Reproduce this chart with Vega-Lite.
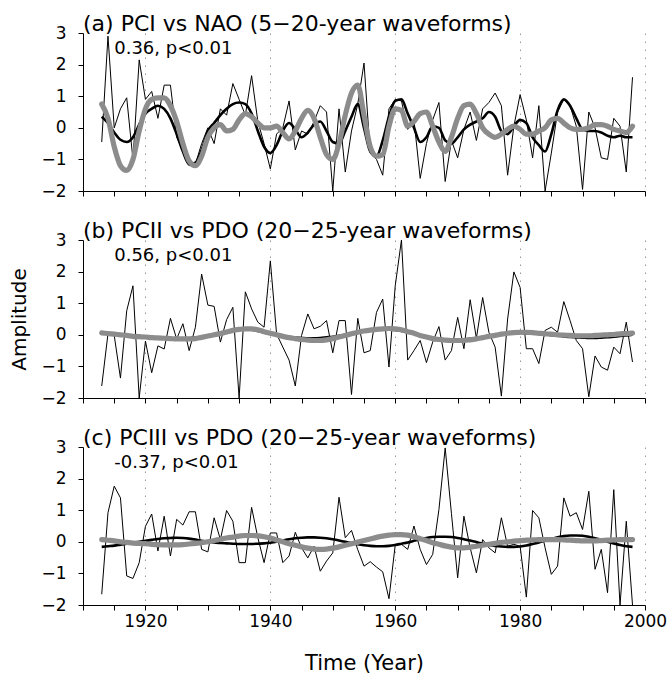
{
  "$schema": "https://vega.github.io/schema/vega-lite/v6.json",
  "padding": {"left": 9, "top": 13, "right": 5, "bottom": 5},
  "background": "white",
  "bounds": "flush",
  "spacing": 49,
  "config": {
    "font": "DejaVu Sans",
    "view": {"stroke": null},
    "axis": {"domainColor": "#000", "tickColor": "#000", "labelColor": "#000", "titleColor": "#000", "labelFont": "DejaVu Sans", "titleFont": "DejaVu Sans", "labelFontSize": 17, "titleFontSize": 20, "titleFontWeight": "normal", "tickSize": 5, "domainWidth": 1, "tickWidth": 1},
    "axisY": {"values": [-2,-1,0,1,2,3], "labelPadding": 12, "grid": false, "labelOverlap": false},
    "axisX": {"values": [1910,1915,1920,1925,1930,1935,1940,1945,1950,1955,1960,1965,1970,1975,1980,1985,1990,1995,2000], "grid": true, "gridColor": "#999", "gridDash": [1.5, 6.5], "labelOverlap": false, "labelFlush": false},
    "title": {"font": "DejaVu Sans", "fontSize": 22, "fontWeight": "normal", "anchor": "start", "frame": "group", "color": "#000", "offset": -12}
  },
  "datasets": {
    "a": [
      {"year":1913,"raw":-0.45,"pc":0.35,"idx":0.75},{"year":1914,"raw":2.9,"pc":0.15,"idx":0.3},{"year":1915,"raw":0.0,"pc":-0.15,"idx":-0.6},{"year":1916,"raw":0.6,"pc":-0.38,"idx":-1.2},{"year":1917,"raw":0.95,"pc":-0.45,"idx":-1.35},{"year":1918,"raw":-1.0,"pc":-0.3,"idx":-1.0},{"year":1919,"raw":2.15,"pc":0.1,"idx":-0.1},{"year":1920,"raw":0.9,"pc":0.45,"idx":0.6},{"year":1921,"raw":1.15,"pc":0.6,"idx":0.9},{"year":1922,"raw":0.3,"pc":0.7,"idx":0.95},{"year":1923,"raw":1.35,"pc":0.6,"idx":0.95},{"year":1924,"raw":1.35,"pc":0.3,"idx":0.7},{"year":1925,"raw":-0.3,"pc":-0.2,"idx":0.2},{"year":1926,"raw":-0.7,"pc":-0.75,"idx":-0.5},{"year":1927,"raw":-1.2,"pc":-1.15,"idx":-1.05},{"year":1928,"raw":-1.15,"pc":-1.1,"idx":-1.2},{"year":1929,"raw":-0.5,"pc":-0.7,"idx":-0.9},{"year":1930,"raw":0.0,"pc":-0.1,"idx":-0.3},{"year":1931,"raw":-0.5,"pc":0.15,"idx":0.0},{"year":1932,"raw":0.6,"pc":0.4,"idx":0.1},{"year":1933,"raw":0.4,"pc":0.6,"idx":-0.1},{"year":1934,"raw":1.4,"pc":0.75,"idx":-0.05},{"year":1935,"raw":0.9,"pc":0.8,"idx":0.25},{"year":1936,"raw":0.4,"pc":0.75,"idx":0.45},{"year":1937,"raw":1.65,"pc":0.45,"idx":0.35},{"year":1938,"raw":0.2,"pc":-0.1,"idx":0.15},{"year":1939,"raw":-0.5,"pc":-0.6,"idx":0.0},{"year":1940,"raw":-1.3,"pc":-0.8,"idx":0.0},{"year":1941,"raw":-0.2,"pc":-0.55,"idx":0.05},{"year":1942,"raw":0.0,"pc":-0.1,"idx":-0.15},{"year":1943,"raw":0.85,"pc":0.15,"idx":-0.35},{"year":1944,"raw":-0.7,"pc":-0.05,"idx":-0.1},{"year":1945,"raw":-0.1,"pc":-0.3,"idx":0.3},{"year":1946,"raw":-0.2,"pc":-0.15,"idx":0.55},{"year":1947,"raw":0.2,"pc":0.1,"idx":0.3},{"year":1948,"raw":0.7,"pc":0.2,"idx":-0.3},{"year":1949,"raw":0.5,"pc":-0.1,"idx":-0.85},{"year":1950,"raw":-2.0,"pc":-0.45,"idx":-1.0},{"year":1951,"raw":0.6,"pc":-0.5,"idx":-0.5},{"year":1952,"raw":-1.4,"pc":-0.1,"idx":0.4},{"year":1953,"raw":-0.1,"pc":0.35,"idx":1.1},{"year":1954,"raw":0.75,"pc":0.75,"idx":1.35},{"year":1955,"raw":2.05,"pc":0.0,"idx":0.4},{"year":1956,"raw":-0.8,"pc":-0.75,"idx":-0.6},{"year":1957,"raw":-1.0,"pc":-0.9,"idx":-0.9},{"year":1958,"raw":-1.5,"pc":-0.4,"idx":-0.85},{"year":1959,"raw":0.6,"pc":0.35,"idx":0.05},{"year":1960,"raw":0.9,"pc":0.85,"idx":0.6},{"year":1961,"raw":0.85,"pc":0.9,"idx":0.55},{"year":1962,"raw":-0.05,"pc":0.45,"idx":0.05},{"year":1963,"raw":0.25,"pc":0.0,"idx":0.2},{"year":1964,"raw":-1.6,"pc":-0.45,"idx":0.45},{"year":1965,"raw":-0.5,"pc":-0.3,"idx":0.5},{"year":1966,"raw":0.25,"pc":0.05,"idx":0.05},{"year":1967,"raw":0.8,"pc":0.0,"idx":-0.45},{"year":1968,"raw":-1.7,"pc":-0.4,"idx":-0.75},{"year":1969,"raw":-0.4,"pc":-0.5,"idx":-0.3},{"year":1970,"raw":-0.95,"pc":-0.3,"idx":0.3},{"year":1971,"raw":-0.05,"pc":-0.05,"idx":0.7},{"year":1972,"raw":0.5,"pc":0.1,"idx":0.75},{"year":1973,"raw":-0.4,"pc":0.2,"idx":0.45},{"year":1974,"raw":0.6,"pc":0.3,"idx":0.0},{"year":1975,"raw":0.8,"pc":0.5,"idx":-0.2},{"year":1976,"raw":1.1,"pc":0.35,"idx":-0.3},{"year":1977,"raw":0.7,"pc":-0.1,"idx":-0.2},{"year":1978,"raw":-1.5,"pc":-0.2,"idx":-0.05},{"year":1979,"raw":0.05,"pc":0.05,"idx":0.05},{"year":1980,"raw":1.05,"pc":0.25,"idx":-0.05},{"year":1981,"raw":0.25,"pc":0.15,"idx":-0.2},{"year":1982,"raw":-0.95,"pc":-0.3,"idx":-0.2},{"year":1983,"raw":0.7,"pc":-0.55,"idx":-0.1},{"year":1984,"raw":-2.0,"pc":-0.75,"idx":0.0},{"year":1985,"raw":-0.8,"pc":-0.2,"idx":0.25},{"year":1986,"raw":0.5,"pc":0.55,"idx":0.3},{"year":1987,"raw":0.9,"pc":0.9,"idx":0.15},{"year":1988,"raw":0.7,"pc":0.7,"idx":0.0},{"year":1989,"raw":0.05,"pc":0.3,"idx":-0.05},{"year":1990,"raw":-1.95,"pc":-0.05,"idx":-0.05},{"year":1991,"raw":0.5,"pc":-0.1,"idx":0.0},{"year":1992,"raw":0.0,"pc":-0.1,"idx":0.1},{"year":1993,"raw":-0.95,"pc":-0.15,"idx":0.1},{"year":1994,"raw":-1.0,"pc":-0.25,"idx":0.05},{"year":1995,"raw":0.3,"pc":-0.3,"idx":-0.05},{"year":1996,"raw":0.05,"pc":-0.25,"idx":-0.1},{"year":1997,"raw":-1.4,"pc":-0.3,"idx":-0.15},{"year":1998,"raw":1.6,"pc":-0.3,"idx":0.05}
    ],
    "b": [
      {"year":1913,"raw":-1.62,"pc":0.06,"idx":0.06},{"year":1914,"raw":0.03,"pc":0.04,"idx":0.04},{"year":1915,"raw":-0.02,"pc":0.02,"idx":0.02},{"year":1916,"raw":-1.37,"pc":0.0,"idx":0.0},{"year":1917,"raw":0.76,"pc":-0.02,"idx":-0.02},{"year":1918,"raw":1.55,"pc":-0.04,"idx":-0.05},{"year":1919,"raw":-2.0,"pc":-0.06,"idx":-0.06},{"year":1920,"raw":-0.2,"pc":-0.07,"idx":-0.07},{"year":1921,"raw":-1.2,"pc":-0.09,"idx":-0.09},{"year":1922,"raw":-0.35,"pc":-0.1,"idx":-0.1},{"year":1923,"raw":-0.45,"pc":-0.11,"idx":-0.11},{"year":1924,"raw":0.52,"pc":-0.12,"idx":-0.12},{"year":1925,"raw":-0.13,"pc":-0.12,"idx":-0.13},{"year":1926,"raw":0.35,"pc":-0.12,"idx":-0.13},{"year":1927,"raw":-0.5,"pc":-0.11,"idx":-0.13},{"year":1928,"raw":0.24,"pc":-0.09,"idx":-0.12},{"year":1929,"raw":1.92,"pc":-0.06,"idx":-0.08},{"year":1930,"raw":0.94,"pc":-0.02,"idx":-0.04},{"year":1931,"raw":0.9,"pc":0.02,"idx":0.0},{"year":1932,"raw":-0.23,"pc":0.06,"idx":0.04},{"year":1933,"raw":0.48,"pc":0.1,"idx":0.09},{"year":1934,"raw":0.87,"pc":0.14,"idx":0.14},{"year":1935,"raw":-2.0,"pc":0.16,"idx":0.17},{"year":1936,"raw":1.36,"pc":0.17,"idx":0.19},{"year":1937,"raw":0.82,"pc":0.16,"idx":0.19},{"year":1938,"raw":0.4,"pc":0.12,"idx":0.16},{"year":1939,"raw":0.24,"pc":0.07,"idx":0.1},{"year":1940,"raw":2.34,"pc":0.03,"idx":0.05},{"year":1941,"raw":0.03,"pc":-0.01,"idx":0.0},{"year":1942,"raw":-0.39,"pc":-0.04,"idx":-0.05},{"year":1943,"raw":-0.8,"pc":-0.07,"idx":-0.09},{"year":1944,"raw":-1.62,"pc":-0.09,"idx":-0.12},{"year":1945,"raw":-0.02,"pc":-0.1,"idx":-0.15},{"year":1946,"raw":0.66,"pc":-0.11,"idx":-0.17},{"year":1947,"raw":0.19,"pc":-0.11,"idx":-0.18},{"year":1948,"raw":0.27,"pc":-0.1,"idx":-0.18},{"year":1949,"raw":0.45,"pc":-0.08,"idx":-0.16},{"year":1950,"raw":-0.57,"pc":-0.06,"idx":-0.12},{"year":1951,"raw":0.45,"pc":-0.03,"idx":-0.07},{"year":1952,"raw":0.45,"pc":0.0,"idx":-0.02},{"year":1953,"raw":-1.89,"pc":0.04,"idx":0.03},{"year":1954,"raw":0.52,"pc":0.08,"idx":0.08},{"year":1955,"raw":-0.57,"pc":0.11,"idx":0.12},{"year":1956,"raw":-0.5,"pc":0.14,"idx":0.15},{"year":1957,"raw":0.71,"pc":0.16,"idx":0.17},{"year":1958,"raw":1.13,"pc":0.17,"idx":0.19},{"year":1959,"raw":-1.02,"pc":0.17,"idx":0.2},{"year":1960,"raw":1.55,"pc":0.15,"idx":0.19},{"year":1961,"raw":3.0,"pc":0.12,"idx":0.16},{"year":1962,"raw":-0.8,"pc":0.08,"idx":0.1},{"year":1963,"raw":-0.5,"pc":0.03,"idx":0.05},{"year":1964,"raw":-0.18,"pc":-0.02,"idx":-0.02},{"year":1965,"raw":-0.88,"pc":-0.06,"idx":-0.07},{"year":1966,"raw":-0.23,"pc":-0.1,"idx":-0.12},{"year":1967,"raw":0.26,"pc":-0.13,"idx":-0.15},{"year":1968,"raw":-0.8,"pc":-0.15,"idx":-0.17},{"year":1969,"raw":-0.5,"pc":-0.16,"idx":-0.18},{"year":1970,"raw":0.55,"pc":-0.16,"idx":-0.18},{"year":1971,"raw":-0.44,"pc":-0.15,"idx":-0.18},{"year":1972,"raw":1.11,"pc":-0.13,"idx":-0.16},{"year":1973,"raw":-0.11,"pc":-0.1,"idx":-0.13},{"year":1974,"raw":1.18,"pc":-0.07,"idx":-0.09},{"year":1975,"raw":0.08,"pc":-0.04,"idx":-0.05},{"year":1976,"raw":-0.39,"pc":-0.01,"idx":-0.02},{"year":1977,"raw":-1.94,"pc":0.02,"idx":0.02},{"year":1978,"raw":0.5,"pc":0.04,"idx":0.05},{"year":1979,"raw":1.99,"pc":0.05,"idx":0.07},{"year":1980,"raw":1.5,"pc":0.06,"idx":0.08},{"year":1981,"raw":-0.44,"pc":0.05,"idx":0.08},{"year":1982,"raw":-0.44,"pc":0.04,"idx":0.07},{"year":1983,"raw":-0.91,"pc":0.03,"idx":0.05},{"year":1984,"raw":0.14,"pc":0.01,"idx":0.03},{"year":1985,"raw":0.24,"pc":-0.01,"idx":0.02},{"year":1986,"raw":0.08,"pc":-0.03,"idx":0.0},{"year":1987,"raw":1.05,"pc":-0.05,"idx":-0.01},{"year":1988,"raw":0.45,"pc":-0.07,"idx":-0.02},{"year":1989,"raw":-0.18,"pc":-0.08,"idx":-0.03},{"year":1990,"raw":-0.44,"pc":-0.09,"idx":-0.03},{"year":1991,"raw":-1.96,"pc":-0.1,"idx":-0.03},{"year":1992,"raw":-0.67,"pc":-0.1,"idx":-0.02},{"year":1993,"raw":-1.02,"pc":-0.09,"idx":-0.01},{"year":1994,"raw":-1.12,"pc":-0.08,"idx":0.0},{"year":1995,"raw":-0.39,"pc":-0.06,"idx":0.01},{"year":1996,"raw":-0.6,"pc":-0.04,"idx":0.03},{"year":1997,"raw":0.4,"pc":-0.02,"idx":0.04},{"year":1998,"raw":-0.86,"pc":0.0,"idx":0.05}
    ],
    "c": [
      {"year":1913,"raw":-1.66,"pc":-0.16,"idx":0.07},{"year":1914,"raw":0.92,"pc":-0.14,"idx":0.05},{"year":1915,"raw":1.76,"pc":-0.12,"idx":0.03},{"year":1916,"raw":1.39,"pc":-0.09,"idx":0.0},{"year":1917,"raw":-1.08,"pc":-0.06,"idx":-0.02},{"year":1918,"raw":-1.16,"pc":-0.03,"idx":-0.04},{"year":1919,"raw":-0.66,"pc":0.0,"idx":-0.05},{"year":1920,"raw":0.49,"pc":0.03,"idx":-0.06},{"year":1921,"raw":0.88,"pc":0.06,"idx":-0.08},{"year":1922,"raw":-0.29,"pc":0.09,"idx":-0.09},{"year":1923,"raw":0.81,"pc":0.11,"idx":-0.1},{"year":1924,"raw":-0.45,"pc":0.12,"idx":-0.1},{"year":1925,"raw":0.71,"pc":0.13,"idx":-0.1},{"year":1926,"raw":0.53,"pc":0.12,"idx":-0.09},{"year":1927,"raw":0.95,"pc":0.1,"idx":-0.07},{"year":1928,"raw":0.95,"pc":0.07,"idx":-0.05},{"year":1929,"raw":-0.24,"pc":0.03,"idx":-0.03},{"year":1930,"raw":-0.32,"pc":0.0,"idx":0.0},{"year":1931,"raw":0.76,"pc":-0.02,"idx":0.04},{"year":1932,"raw":0.07,"pc":-0.04,"idx":0.08},{"year":1933,"raw":0.99,"pc":-0.05,"idx":0.12},{"year":1934,"raw":0.65,"pc":-0.06,"idx":0.15},{"year":1935,"raw":-0.66,"pc":-0.07,"idx":0.18},{"year":1936,"raw":-0.66,"pc":-0.07,"idx":0.2},{"year":1937,"raw":1.09,"pc":-0.07,"idx":0.2},{"year":1938,"raw":0.13,"pc":-0.06,"idx":0.19},{"year":1939,"raw":-0.66,"pc":-0.05,"idx":0.16},{"year":1940,"raw":0.28,"pc":-0.03,"idx":0.12},{"year":1941,"raw":0.28,"pc":0.0,"idx":0.06},{"year":1942,"raw":-0.66,"pc":0.04,"idx":0.0},{"year":1943,"raw":-0.45,"pc":0.08,"idx":-0.06},{"year":1944,"raw":0.3,"pc":0.11,"idx":-0.11},{"year":1945,"raw":-0.19,"pc":0.13,"idx":-0.16},{"year":1946,"raw":-0.51,"pc":0.14,"idx":-0.2},{"year":1947,"raw":-0.14,"pc":0.14,"idx":-0.23},{"year":1948,"raw":-0.93,"pc":0.13,"idx":-0.24},{"year":1949,"raw":-0.61,"pc":0.11,"idx":-0.23},{"year":1950,"raw":-0.35,"pc":0.08,"idx":-0.2},{"year":1951,"raw":1.41,"pc":0.04,"idx":-0.16},{"year":1952,"raw":0.13,"pc":0.0,"idx":-0.11},{"year":1953,"raw":0.36,"pc":-0.04,"idx":-0.06},{"year":1954,"raw":-0.25,"pc":-0.08,"idx":-0.01},{"year":1955,"raw":-0.77,"pc":-0.11,"idx":0.04},{"year":1956,"raw":-0.63,"pc":-0.13,"idx":0.09},{"year":1957,"raw":-0.8,"pc":-0.14,"idx":0.14},{"year":1958,"raw":-0.95,"pc":-0.14,"idx":0.18},{"year":1959,"raw":-1.8,"pc":-0.13,"idx":0.21},{"year":1960,"raw":-0.1,"pc":-0.1,"idx":0.23},{"year":1961,"raw":-0.08,"pc":-0.06,"idx":0.23},{"year":1962,"raw":-0.24,"pc":-0.02,"idx":0.21},{"year":1963,"raw":0.5,"pc":0.03,"idx":0.16},{"year":1964,"raw":-0.24,"pc":0.08,"idx":0.1},{"year":1965,"raw":-0.72,"pc":0.12,"idx":0.04},{"year":1966,"raw":-0.4,"pc":0.15,"idx":-0.03},{"year":1967,"raw":1.02,"pc":0.16,"idx":-0.08},{"year":1968,"raw":2.97,"pc":0.16,"idx":-0.13},{"year":1969,"raw":0.9,"pc":0.15,"idx":-0.17},{"year":1970,"raw":-1.14,"pc":0.12,"idx":-0.19},{"year":1971,"raw":0.81,"pc":0.08,"idx":-0.19},{"year":1972,"raw":-0.19,"pc":0.04,"idx":-0.17},{"year":1973,"raw":-0.98,"pc":-0.01,"idx":-0.14},{"year":1974,"raw":0.07,"pc":-0.06,"idx":-0.11},{"year":1975,"raw":-0.19,"pc":-0.1,"idx":-0.08},{"year":1976,"raw":-0.35,"pc":-0.13,"idx":-0.05},{"year":1977,"raw":0.76,"pc":-0.15,"idx":-0.02},{"year":1978,"raw":-0.14,"pc":-0.16,"idx":0.0},{"year":1979,"raw":-0.08,"pc":-0.16,"idx":0.02},{"year":1980,"raw":-0.14,"pc":-0.15,"idx":0.04},{"year":1981,"raw":-1.75,"pc":-0.12,"idx":0.05},{"year":1982,"raw":0.99,"pc":-0.07,"idx":0.06},{"year":1983,"raw":0.76,"pc":-0.02,"idx":0.07},{"year":1984,"raw":-0.19,"pc":0.04,"idx":0.07},{"year":1985,"raw":-1.03,"pc":0.09,"idx":0.07},{"year":1986,"raw":-0.77,"pc":0.14,"idx":0.07},{"year":1987,"raw":1.39,"pc":0.18,"idx":0.06},{"year":1988,"raw":0.81,"pc":0.2,"idx":0.05},{"year":1989,"raw":0.92,"pc":0.2,"idx":0.04},{"year":1990,"raw":0.39,"pc":0.19,"idx":0.03},{"year":1991,"raw":1.6,"pc":0.16,"idx":0.03},{"year":1992,"raw":-0.87,"pc":0.11,"idx":0.03},{"year":1993,"raw":-0.24,"pc":0.06,"idx":0.04},{"year":1994,"raw":-1.61,"pc":0.0,"idx":0.05},{"year":1995,"raw":1.65,"pc":-0.05,"idx":0.06},{"year":1996,"raw":-2.0,"pc":-0.1,"idx":0.07},{"year":1997,"raw":0.65,"pc":-0.14,"idx":0.07},{"year":1998,"raw":-2.0,"pc":-0.16,"idx":0.07}
    ]
  },
  "vconcat": [
    {
      "width": 562, "height": 158,
      "title": {"text": "(a) PCI vs NAO (5\u221220-year waveforms)"},
      "layer": [
        {"data": {"name": "a"}, "mark": {"type": "line", "color": "#000", "strokeWidth": 1},
         "encoding": {"x": {"field": "year", "type": "quantitative", "scale": {"domain": [1910, 2000], "nice": false, "zero": false}, "axis": {"title": null, "labels": false, "gridOpacity": {"condition": {"test": "datum.value % 20 === 0", "value": 1}, "value": 0}}},
                      "y": {"field": "raw", "type": "quantitative", "scale": {"domain": [-2, 3], "nice": false, "zero": false}, "axis": {"title": null}}}},
        {"data": {"name": "a"}, "mark": {"type": "line", "color": "#000", "strokeWidth": 2.6, "interpolate": "monotone"},
         "encoding": {"x": {"field": "year", "type": "quantitative", "axis": {"title": null, "labels": false, "gridOpacity": {"condition": {"test": "datum.value % 20 === 0", "value": 1}, "value": 0}}}, "y": {"field": "pc", "type": "quantitative", "axis": {"title": null}}}},
        {"data": {"name": "a"}, "mark": {"type": "line", "color": "#8c8c8c", "strokeWidth": 5.2, "interpolate": "monotone", "strokeCap": "round", "strokeJoin": "round"},
         "encoding": {"x": {"field": "year", "type": "quantitative", "axis": {"title": null, "labels": false, "gridOpacity": {"condition": {"test": "datum.value % 20 === 0", "value": 1}, "value": 0}}}, "y": {"field": "idx", "type": "quantitative", "axis": {"title": null}}}},
        {"data": {"values": [{"t": "0.36, p<0.01"}]}, "mark": {"type": "text", "align": "left", "baseline": "middle", "fontSize": 18, "font": "DejaVu Sans", "color": "#000"},
         "encoding": {"x": {"datum": 1915, "type": "quantitative", "axis": {"title": null, "labels": false, "gridOpacity": {"condition": {"test": "datum.value % 20 === 0", "value": 1}, "value": 0}}}, "y": {"datum": 2.5, "type": "quantitative", "axis": {"title": null}}, "text": {"field": "t"}}}
      ]
    },
    {
      "width": 562, "height": 158,
      "title": {"text": "(b) PCII vs PDO (20\u221225-year waveforms)"},
      "layer": [
        {"data": {"name": "b"}, "mark": {"type": "line", "color": "#000", "strokeWidth": 1},
         "encoding": {"x": {"field": "year", "type": "quantitative", "scale": {"domain": [1910, 2000], "nice": false, "zero": false}, "axis": {"title": null, "labels": false, "gridOpacity": {"condition": {"test": "datum.value % 20 === 0", "value": 1}, "value": 0}}},
                      "y": {"field": "raw", "type": "quantitative", "scale": {"domain": [-2, 3], "nice": false, "zero": false}, "axis": {"title": "Amplitude", "titlePadding": 11}}}},
        {"data": {"name": "b"}, "mark": {"type": "line", "color": "#000", "strokeWidth": 2.6, "interpolate": "monotone"},
         "encoding": {"x": {"field": "year", "type": "quantitative", "axis": {"title": null, "labels": false, "gridOpacity": {"condition": {"test": "datum.value % 20 === 0", "value": 1}, "value": 0}}}, "y": {"field": "pc", "type": "quantitative", "axis": {"title": "Amplitude", "titlePadding": 11}}}},
        {"data": {"name": "b"}, "mark": {"type": "line", "color": "#8c8c8c", "strokeWidth": 5.2, "interpolate": "monotone", "strokeCap": "round", "strokeJoin": "round"},
         "encoding": {"x": {"field": "year", "type": "quantitative", "axis": {"title": null, "labels": false, "gridOpacity": {"condition": {"test": "datum.value % 20 === 0", "value": 1}, "value": 0}}}, "y": {"field": "idx", "type": "quantitative", "axis": {"title": "Amplitude", "titlePadding": 11}}}},
        {"data": {"values": [{"t": "0.56, p<0.01"}]}, "mark": {"type": "text", "align": "left", "baseline": "middle", "fontSize": 18, "font": "DejaVu Sans", "color": "#000"},
         "encoding": {"x": {"datum": 1915, "type": "quantitative", "axis": {"title": null, "labels": false, "gridOpacity": {"condition": {"test": "datum.value % 20 === 0", "value": 1}, "value": 0}}}, "y": {"datum": 2.5, "type": "quantitative", "axis": {"title": "Amplitude", "titlePadding": 11}}, "text": {"field": "t"}}}
      ]
    },
    {
      "width": 562, "height": 158,
      "title": {"text": "(c) PCIII vs PDO (20\u221225-year waveforms)"},
      "layer": [
        {"data": {"name": "c"}, "mark": {"type": "line", "color": "#000", "strokeWidth": 1},
         "encoding": {"x": {"field": "year", "type": "quantitative", "scale": {"domain": [1910, 2000], "nice": false, "zero": false}, "axis": {"title": "Time (Year)", "titleFontSize": 21, "titlePadding": 23, "labelPadding": 3, "format": "d", "labelExpr": "datum.value % 20 === 0 ? datum.label : ''", "gridOpacity": {"condition": {"test": "datum.value % 20 === 0", "value": 1}, "value": 0}}},
                      "y": {"field": "raw", "type": "quantitative", "scale": {"domain": [-2, 3], "nice": false, "zero": false}, "axis": {"title": null}}}},
        {"data": {"name": "c"}, "mark": {"type": "line", "color": "#000", "strokeWidth": 2.6, "interpolate": "monotone"},
         "encoding": {"x": {"field": "year", "type": "quantitative", "axis": {"title": "Time (Year)", "titleFontSize": 21, "titlePadding": 23, "labelPadding": 3, "format": "d", "labelExpr": "datum.value % 20 === 0 ? datum.label : ''", "gridOpacity": {"condition": {"test": "datum.value % 20 === 0", "value": 1}, "value": 0}}}, "y": {"field": "pc", "type": "quantitative", "axis": {"title": null}}}},
        {"data": {"name": "c"}, "mark": {"type": "line", "color": "#8c8c8c", "strokeWidth": 5.2, "interpolate": "monotone", "strokeCap": "round", "strokeJoin": "round"},
         "encoding": {"x": {"field": "year", "type": "quantitative", "axis": {"title": "Time (Year)", "titleFontSize": 21, "titlePadding": 23, "labelPadding": 3, "format": "d", "labelExpr": "datum.value % 20 === 0 ? datum.label : ''", "gridOpacity": {"condition": {"test": "datum.value % 20 === 0", "value": 1}, "value": 0}}}, "y": {"field": "idx", "type": "quantitative", "axis": {"title": null}}}},
        {"data": {"values": [{"t": "-0.37, p<0.01"}]}, "mark": {"type": "text", "align": "left", "baseline": "middle", "fontSize": 18, "font": "DejaVu Sans", "color": "#000"},
         "encoding": {"x": {"datum": 1915, "type": "quantitative", "axis": {"title": "Time (Year)", "titleFontSize": 21, "titlePadding": 23, "labelPadding": 3, "format": "d", "labelExpr": "datum.value % 20 === 0 ? datum.label : ''", "gridOpacity": {"condition": {"test": "datum.value % 20 === 0", "value": 1}, "value": 0}}}, "y": {"datum": 2.5, "type": "quantitative", "axis": {"title": null}}, "text": {"field": "t"}}}
      ]
    }
  ]
}
